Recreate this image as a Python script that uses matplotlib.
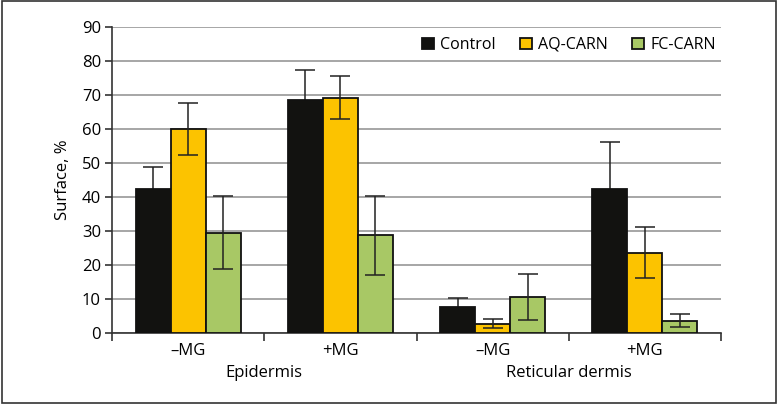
import matplotlib
matplotlib.use("Agg")
import matplotlib.pyplot as plt
import matplotlib.transforms as mtransforms
from matplotlib.patches import Rectangle
import numpy as np

plt.rcParams['font.family'] = ['Open Sans', 'DejaVu Sans']

groups = ["\u2013MG", "+MG", "\u2013MG", "+MG"]
regions = ["Epidermis", "Reticular dermis"]
series = ["Control", "AQ-CARN", "FC-CARN"]

control = [42.3, 68.6, 7.7, 42.5]
control_err = [6.6, 8.9, 2.7, 13.7]
aq = [60.1, 69.3, 2.8, 23.6]
aq_err = [7.6, 6.3, 1.3, 7.5]
fc = [29.5, 28.8, 10.6, 3.6]
fc_err = [10.8, 11.6, 6.9, 1.9]

colors = ["#121210", "#FCC300", "#A8C865"]

fig = plt.figure(figsize=(7.78, 4.04), dpi=100)
ax = fig.add_axes([0.144, 0.1757, 0.7827, 0.7567])

x = np.arange(len(groups))
width = 0.23
vals = [control, aq, fc]
errs = [control_err, aq_err, fc_err]
for i in range(3):
    ax.bar(x + (i - 1) * width, vals[i], width, color=colors[i],
           edgecolor="#111111", linewidth=1.3, label=series[i], zorder=3)
    # the dark control bar hides the lower half of its own error bar
    ax.errorbar(x + (i - 1) * width, vals[i], yerr=errs[i], fmt="none",
                ecolor="#222222", elinewidth=1.1, capsize=7, capthick=1.1,
                zorder=2.5 if i == 0 else 4)

ax.set_ylim(0, 90)
ax.set_yticks(np.arange(0, 91, 10))
ax.set_xlim(-0.5, 3.5)
ax.yaxis.grid(True, color="#a6a6a6", linewidth=1.4, zorder=0)
ax.set_axisbelow(True)
for s in ["top", "right"]:
    ax.spines[s].set_visible(False)
ax.spines["left"].set_color("#333333")
ax.spines["bottom"].set_color("#333333")
ax.spines["left"].set_linewidth(1.2)
ax.spines["bottom"].set_linewidth(1.2)

ax.set_xticks([-0.5, 0.5, 1.5, 2.5, 3.5])
ax.set_xticklabels([])
ax.set_xticks(x, minor=True)
ax.set_xticklabels(groups, minor=True, fontsize=12)
ax.tick_params(axis="x", which="minor", length=0, pad=7)
ax.tick_params(axis="x", which="major", length=6, width=1.2, color="#333333")
ax.tick_params(axis="y", labelsize=12, length=5, width=1.2, color="#333333", pad=3)

trans = mtransforms.blended_transform_factory(ax.transData, ax.transAxes)
ax.text(0.5, -0.13, regions[0], transform=trans, ha="center", va="center", fontsize=12)
ax.text(2.5, -0.13, regions[1], transform=trans, ha="center", va="center", fontsize=12)

ax.set_ylabel("Surface, %", fontsize=12, labelpad=8)

ax.legend(loc="upper right", ncol=3, frameon=False, fontsize=11.5,
          handlelength=0.75, handleheight=0.75, handletextpad=0.4,
          columnspacing=1.5, bbox_to_anchor=(1.01, 1.005), borderaxespad=0.3)

fig.patches.append(Rectangle((0.002, 0.003), 0.996, 0.994, transform=fig.transFigure,
                             fill=False, edgecolor="#333333", linewidth=1.2))

fig.savefig("out.png", dpi=100)
